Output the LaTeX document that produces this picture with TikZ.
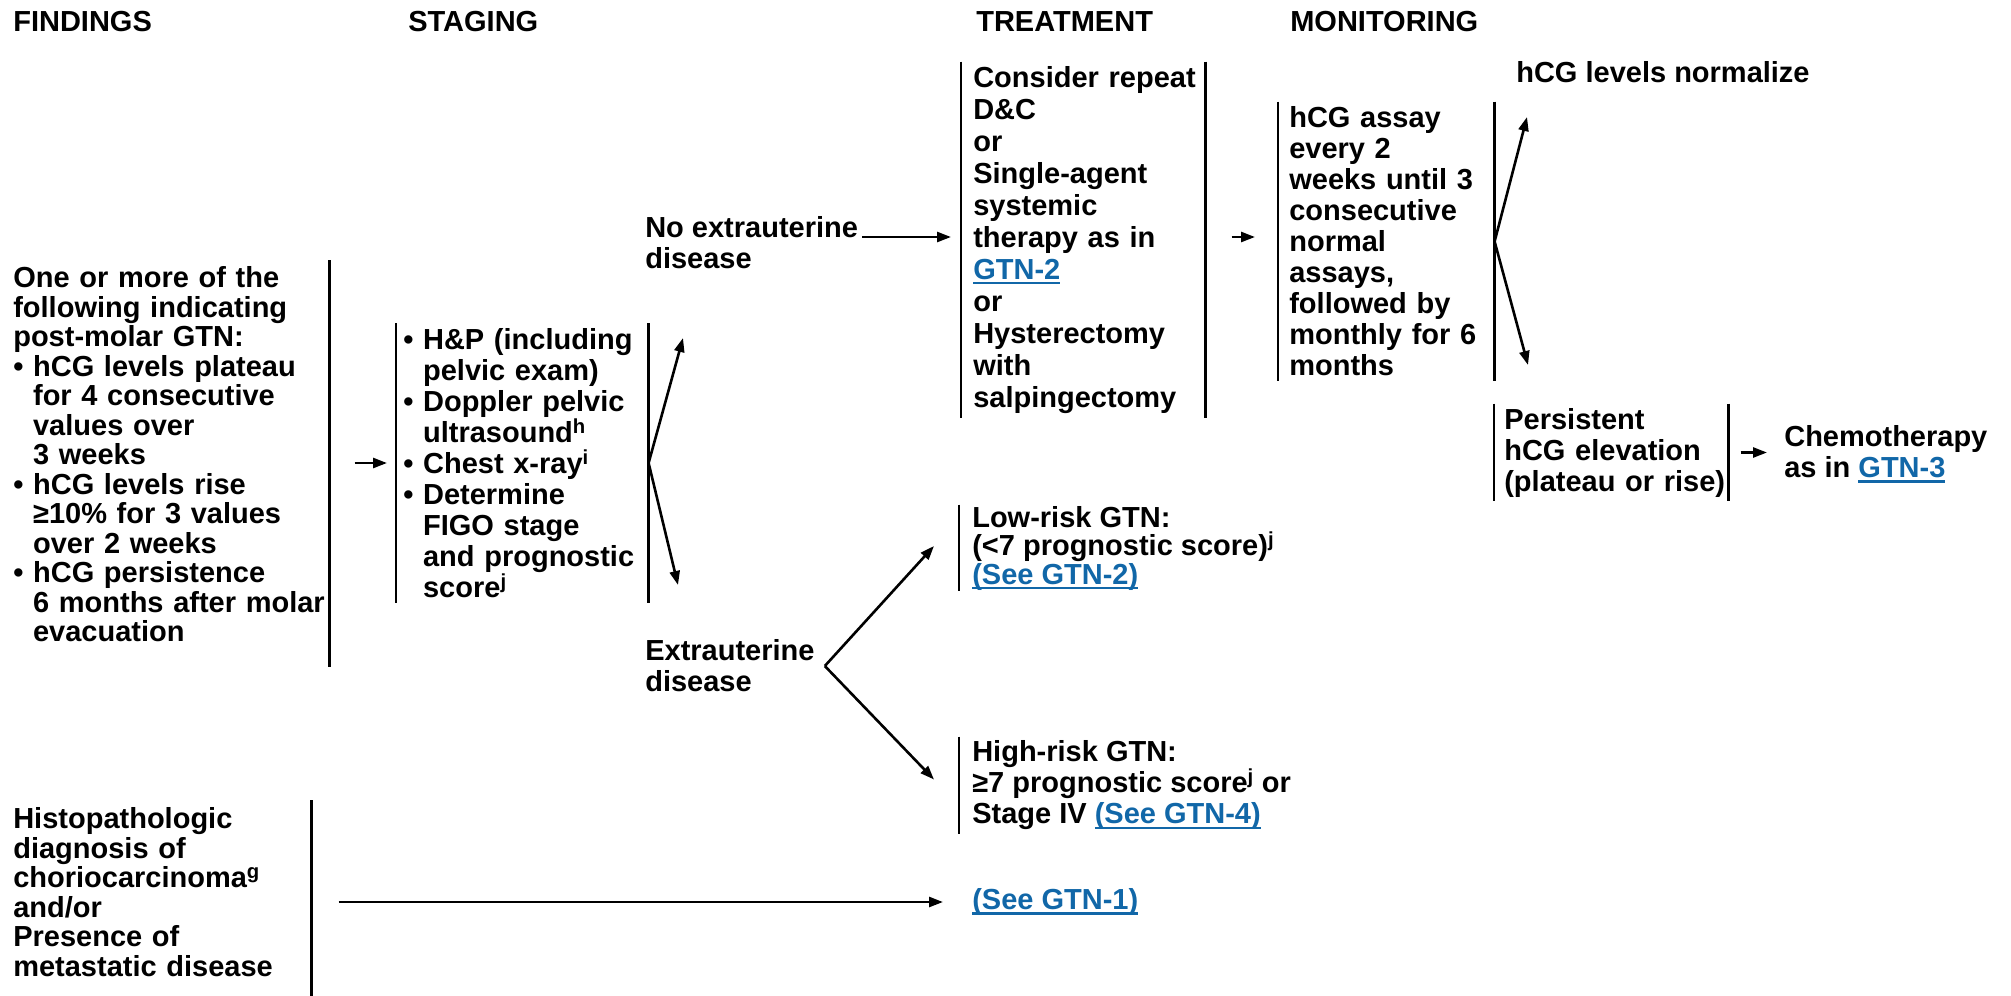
\documentclass[tikz,border=0pt]{standalone}
\usepackage{fontspec}
\setmainfont{Liberation Sans}
\usetikzlibrary{arrows.meta}
\definecolor{linkblue}{RGB}{17,103,168}
\newcommand{\gtn}[1]{\textcolor{linkblue}{\sbox0{#1}\rlap{\rule[-5pt]{\wd0}{2.2pt}}\usebox0}}
\newcommand{\bpad}{\hphantom{\textbullet\ }}

\begin{document}
\begin{tikzpicture}[x=1pt, y=-1pt, line width=2.6pt, >={Triangle[length=14pt,width=10pt]},
  every node/.style={font=\bfseries\fontsize{29}{31}\selectfont, inner sep=0pt},
  bx/.style={align=left, anchor=west},
  head/.style={anchor=base west}]
\useasboundingbox (0,0) rectangle (2011,996);

% column heads
\node[head] (hfind)  at (12,31)   {FINDINGS};
\node[head] (hstage) at (407,31)  {STAGING};
\node[head] (htreat) at (975,31)  {TREATMENT};
\node[head] (hmonit) at (1289,31) {MONITORING};

% findings
\node[bx, anchor=north west, text width=315pt, font=\bfseries\fontsize{29}{29.5}\selectfont] (find) at (12,265.5) {One or more of the\\following indicating\\post-molar GTN:\\\textbullet\ hCG levels plateau\\\bpad for 4 consecutive\\\bpad values over\\\bpad 3 weeks\\\textbullet\ hCG levels rise\\\bpad ≥10\% for 3 values\\\bpad over 2 weeks\\\textbullet\ hCG persistence\\\bpad 6 months after molar\\\bpad evacuation};
\node[bx, anchor=north west, text width=297pt, font=\bfseries\fontsize{29}{29.5}\selectfont] (histo) at (12,806.5) {Histopathologic\\diagnosis of\\choriocarcinoma\textsuperscript{g}\\and/or\\Presence of\\metastatic disease};
\draw ([yshift=5.5pt]find.north east) -- ([yshift=-23.5pt]find.south east);
\draw ([yshift=6.5pt]histo.north east) -- ([yshift=-22pt]histo.south east);

% staging
\node[bx, text width=244pt, minimum height=277pt] (stage) at (402,463) {\textbullet\ H\&P (including\\\bpad pelvic exam)\\\textbullet\ Doppler pelvic\\\bpad ultrasound\textsuperscript{h}\\\textbullet\ Chest x-ray\textsuperscript{i}\\\textbullet\ Determine\\\bpad FIGO stage\\\bpad and prognostic\\\bpad score\textsuperscript{j}};
\draw ([xshift=-6pt]stage.north west) -- ([xshift=-6pt]stage.south west) (stage.north east) -- (stage.south east);
\draw[->, shorten <=25pt, shorten >=15pt] (stage.west -| find.east) -- (stage.west);

\node[bx, anchor=base west] (noext) at (644,268) {No extrauterine\\disease};
\node[bx] (extra) at (644,666) {Extrauterine\\disease};
\coordinate (stup) at (683,338);
\coordinate (stdn) at (678,585);
\draw[->] (stage.east) -- (stup);
\draw[->] (stage.east) -- (stdn);

% treatment
\node[bx, text width=231pt, minimum height=354pt, font=\bfseries\fontsize{29}{32}\selectfont] (treat) at (972,240) {Consider repeat\\D\&C\\or\\Single-agent\\systemic\\therapy as in\\\gtn{GTN-2}\\or\\Hysterectomy\\with\\salpingectomy};
\draw ([xshift=-11pt]treat.north west) -- ([xshift=-11pt]treat.south west) (treat.north east) -- (treat.south east);
\coordinate (noarr) at ([yshift=31pt]noext.base east);
\draw[->, shorten <=3pt, shorten >=21pt] (noarr) -- (noarr -| treat.west);

\node[bx, minimum height=82pt, font=\bfseries\fontsize{29}{28.5}\selectfont] (low) at (971,548) {Low-risk GTN:\\(<7 prognostic score)\textsuperscript{j}\\\gtn{(See GTN-2)}};
\node[bx, minimum height=95pt] (high) at (971,785.5) {High-risk GTN:\\≥7 prognostic score\textsuperscript{j} or\\Stage IV \gtn{(See GTN-4)}};
\draw ([xshift=-12pt]low.north west) -- ([xshift=-12pt]low.south west);
\draw ([xshift=-12pt]high.north west) -- ([xshift=-12pt]high.south west);
\draw[->] ([xshift=9pt]extra.east) -- ([xshift=-37pt,yshift=2pt]low.west);
\draw[->] ([xshift=9pt]extra.east) -- ([xshift=-37pt,yshift=6pt]high.west);

\node[bx] (gtn1) at (971,902) {\gtn{(See GTN-1)}};
\draw[->, shorten <=27pt, shorten >=28pt] (gtn1.west -| histo.east) -- (gtn1.west);

% monitoring
\node[bx, text width=204pt, minimum height=277pt] (monit) at (1288,241.5) {hCG assay\\every 2\\weeks until 3\\consecutive\\normal\\assays,\\followed by\\monthly for 6\\months};
\draw ([xshift=-10pt]monit.north west) -- ([xshift=-10pt]monit.south west) (monit.north east) -- (monit.south east);
\draw[->, shorten <=26pt, shorten >=33pt] (noarr -| treat.east) -- (noarr -| monit.west);

\node[head] (norm) at (1515,82) {hCG levels normalize};
\coordinate (mnup) at (1527,117);
\coordinate (mndn) at (1528,365);
\draw[->] (monit.east) -- (mnup);
\draw[->] (monit.east) -- (mndn);

\node[bx, text width=223pt, minimum height=95pt] (persist) at (1503,452.5) {Persistent\\hCG elevation\\(plateau or rise)};
\draw ([xshift=-9pt]persist.north west) -- ([xshift=-9pt]persist.south west) (persist.north east) -- (persist.south east);
\node[bx] (chemo) at (1783,454) {Chemotherapy\\as in \gtn{GTN-3}};
\draw[->, shorten <=12pt, shorten >=16pt] (persist.east) -- (persist.east -| chemo.west);

\end{tikzpicture}
\end{document}
